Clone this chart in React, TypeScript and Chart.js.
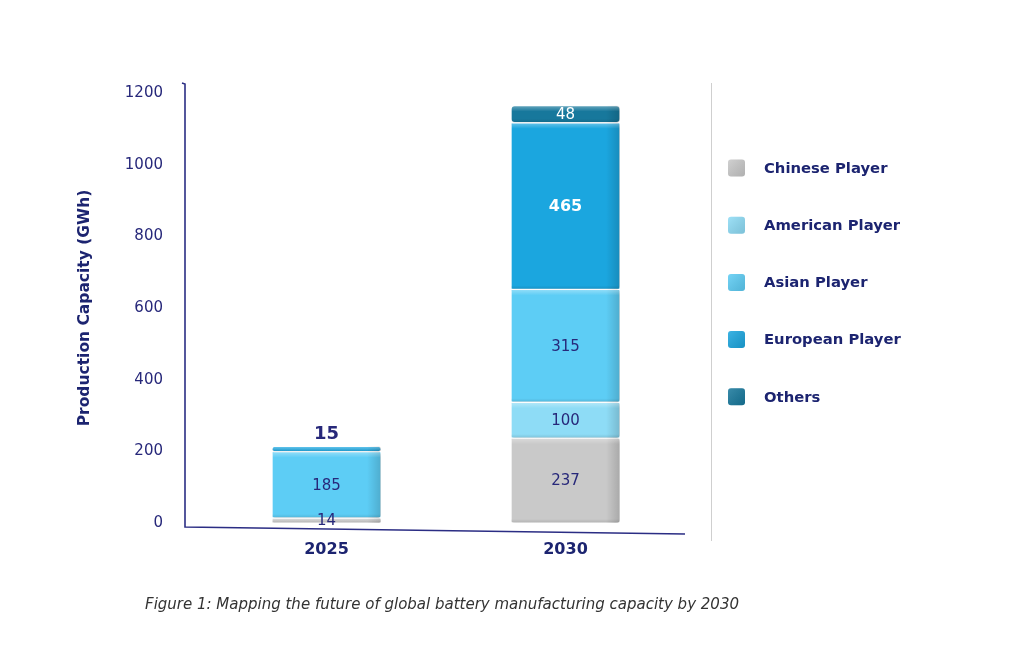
import { useEffect, useRef } from "react";
import { Chart, registerables } from "chart.js";

Chart.register(...registerables);

// Production capacity (GWh) by player group
const years = ["2025", "2030"];
const chinesePlayer = [14, 237];
const americanPlayer = [0, 100];
const asianPlayer = [185, 315];
const europeanPlayer = [15, 465];
const otherPlayers = [0, 48];

const seriesNames = ["Chinese Player", "American Player", "Asian Player", "European Player", "Others"];
const seriesColors = ["#c9c9c9", "#8edcf6", "#5dcdf5", "#1ba6df", "#17789c"];

const yMin = 0;
const yMax = 1200;
const yStep = 200;

const caption = "Figure 1: Mapping the future of global battery manufacturing capacity by 2030";

const NAVY = "#27287a";
const FONT = "'DejaVu Sans', Verdana, sans-serif";

// value-label look per series: [color, weight, size]
const labelStyles: [string, string, number][] = [
  [NAVY, "normal", 15],
  [NAVY, "normal", 15],
  [NAVY, "normal", 15],
  ["#ffffff", "bold", 16],
  ["#ffffff", "normal", 15],
];

function roundRect(ctx: CanvasRenderingContext2D, x: number, y: number, w: number, h: number, r: number) {
  const rr = Math.min(r, w / 2, h / 2);
  ctx.beginPath();
  ctx.moveTo(x + rr, y);
  ctx.lineTo(x + w - rr, y);
  ctx.quadraticCurveTo(x + w, y, x + w, y + rr);
  ctx.lineTo(x + w, y + h - rr);
  ctx.quadraticCurveTo(x + w, y + h, x + w - rr, y + h);
  ctx.lineTo(x + rr, y + h);
  ctx.quadraticCurveTo(x, y + h, x, y + h - rr);
  ctx.lineTo(x, y + rr);
  ctx.quadraticCurveTo(x, y, x + rr, y);
  ctx.closePath();
}

// axis lines, separator, block shading, value labels, legend and caption
const framePlugin = {
  id: "frame",
  beforeDatasetsDraw(chart: any) {
    const { ctx, chartArea } = chart;
    const ax = chartArea.left - 22;
    ctx.save();
    ctx.strokeStyle = "#2b2d84";
    ctx.lineWidth = 1.6;
    ctx.beginPath();
    ctx.moveTo(ax - 3, chartArea.top - 10);
    ctx.lineTo(ax, chartArea.top - 9);
    ctx.lineTo(ax, chartArea.bottom + 4);
    ctx.lineTo(chartArea.right, chartArea.bottom + 11);
    ctx.stroke();
    // separator between plot and legend
    ctx.strokeStyle = "#cfcfcf";
    ctx.lineWidth = 1;
    ctx.beginPath();
    ctx.moveTo(chartArea.right + 26.5, chartArea.top - 10);
    ctx.lineTo(chartArea.right + 26.5, chartArea.bottom + 18);
    ctx.stroke();
    ctx.restore();
  },
  afterDatasetsDraw(chart: any) {
    const { ctx, chartArea } = chart;
    ctx.save();
    // block shading
    chart.data.datasets.forEach((ds: any, di: number) => {
      const meta = chart.getDatasetMeta(di);
      meta.data.forEach((el: any, i: number) => {
        const v = ds.data[i];
        if (!v) return;
        const left = el.x - el.width / 2;
        const right = el.x + el.width / 2;
        const top = Math.min(el.y, el.base);
        const h = Math.abs(el.base - el.y);
        ctx.save();
        roundRect(ctx, left, top, right - left, h, 4);
        ctx.clip();
        const g = ctx.createLinearGradient(right - 14, 0, right, 0);
        g.addColorStop(0, "rgba(0,0,0,0)");
        g.addColorStop(1, "rgba(0,0,0,0.16)");
        ctx.fillStyle = g;
        ctx.fillRect(right - 14, top, 14, h);
        const t = ctx.createLinearGradient(0, top, 0, top + Math.min(6, h));
        t.addColorStop(0, "rgba(255,255,255,0.35)");
        t.addColorStop(1, "rgba(255,255,255,0)");
        ctx.fillStyle = t;
        ctx.fillRect(left, top, right - left, Math.min(6, h));
        const b = ctx.createLinearGradient(0, top + h - Math.min(4, h), 0, top + h);
        b.addColorStop(0, "rgba(0,0,0,0)");
        b.addColorStop(1, "rgba(0,0,0,0.12)");
        ctx.fillStyle = b;
        ctx.fillRect(left, top + h - Math.min(4, h), right - left, Math.min(4, h));
        ctx.restore();
      });
    });

    // value labels
    const n = chart.data.datasets.length;
    chart.data.datasets.forEach((ds: any, di: number) => {
      const meta = chart.getDatasetMeta(di);
      meta.data.forEach((el: any, i: number) => {
        const v = ds.data[i];
        if (!v) return;
        let isTop = true;
        for (let k = di + 1; k < n; k++) if (chart.data.datasets[k].data[i]) isTop = false;
        const h = Math.abs(el.base - el.y);
        const [color, weight, size] = labelStyles[di];
        ctx.textAlign = "center";
        ctx.textBaseline = "middle";
        if (isTop && h < 15) {
          ctx.fillStyle = NAVY;
          ctx.font = `bold 18px ${FONT}`;
          ctx.fillText(String(v), el.x, Math.min(el.y, el.base) - 12);
        } else {
          ctx.fillStyle = color;
          ctx.font = `${weight} ${size}px ${FONT}`;
          ctx.fillText(String(v), el.x, (el.y + el.base) / 2 + 1);
        }
      });
    });

    // legend
    const lx = chartArea.right + 43;
    const ly0 = chartArea.top + 75;
    const gap = 57.2;
    chart.data.datasets.forEach((ds: any, di: number) => {
      const cy = ly0 + di * gap;
      ctx.fillStyle = ds.backgroundColor;
      roundRect(ctx, lx, cy - 8.5, 17, 17, 3);
      ctx.fill();
      const g = ctx.createLinearGradient(lx, cy - 8.5, lx + 17, cy + 8.5);
      g.addColorStop(0, "rgba(255,255,255,0.15)");
      g.addColorStop(1, "rgba(0,0,0,0.12)");
      ctx.fillStyle = g;
      roundRect(ctx, lx, cy - 8.5, 17, 17, 3);
      ctx.fill();
      ctx.fillStyle = "#1c2470";
      ctx.font = `bold 14.8px ${FONT}`;
      ctx.textAlign = "left";
      ctx.textBaseline = "middle";
      ctx.fillText(ds.label, lx + 36, cy + 1);
    });

    // caption
    ctx.fillStyle = "#333333";
    ctx.font = `italic 15px ${FONT}`;
    ctx.textAlign = "left";
    ctx.textBaseline = "middle";
    ctx.fillText(caption, 145, 605);
    ctx.restore();
  },
};

export default function App() {
  const canvasRef = useRef<HTMLCanvasElement | null>(null);

  useEffect(() => {
    if (!canvasRef.current) return;
    const series = [chinesePlayer, americanPlayer, asianPlayer, europeanPlayer, otherPlayers];
    const chart = new Chart(canvasRef.current, {
      type: "bar",
      data: {
        labels: years,
        datasets: series.map((d, i) => ({
          label: seriesNames[i],
          data: d,
          backgroundColor: seriesColors[i],
          borderColor: "rgba(255,255,255,0.75)",
          borderWidth: 1,
          borderSkipped: false,
          borderRadius: 4,
          barThickness: 109,
        })),
      },
      options: {
        responsive: false,
        animation: false,
        devicePixelRatio: 1,
        layout: { padding: { top: 93, left: 70, right: 339, bottom: 0 } },
        plugins: {
          legend: { display: false },
          tooltip: { enabled: false },
        },
        scales: {
          x: {
            stacked: true,
            grid: { display: false, drawTicks: false },
            border: { display: false },
            ticks: {
              color: "#1c2470",
              padding: 17,
              font: { family: FONT, size: 16, weight: "bold" },
            },
            afterFit: (s: any) => {
              s.height = 134;
            },
          },
          y: {
            stacked: true,
            min: yMin,
            max: yMax,
            grid: { display: false, drawTicks: false },
            border: { display: false },
            ticks: {
              stepSize: yStep,
              color: NAVY,
              padding: 44,
              font: { family: FONT, size: 15 },
              callback: (v: any) => String(v),
            },
            title: {
              display: true,
              text: "Production Capacity (GWh)",
              color: "#1c2470",
              padding: { top: 6, bottom: 0 },
              font: { family: FONT, size: 15.5, weight: "bold" },
            },
            afterFit: (s: any) => {
              s.width = 137;
            },
          },
        },
      },
      plugins: [framePlugin],
    });
    return () => chart.destroy();
  }, []);

  return (
    <div style={{ position: "absolute", left: 0, top: 0, width: 1024, height: 657, background: "#ffffff" }}>
      <canvas ref={canvasRef} width={1024} height={657} />
    </div>
  );
}
